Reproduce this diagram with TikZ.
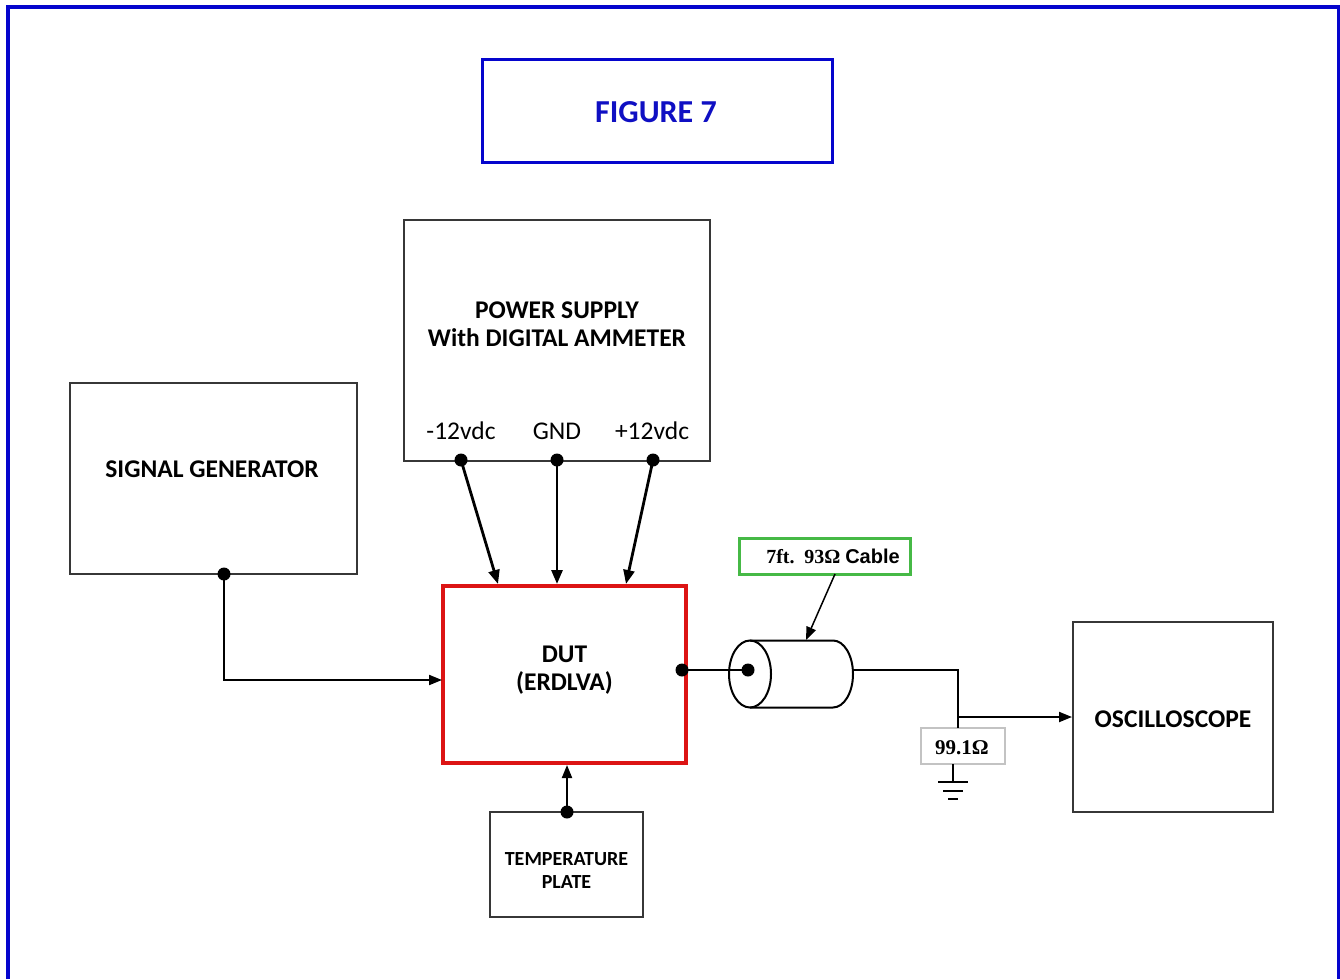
\documentclass[tikz,border=0pt]{standalone}
\usepackage{fontspec}
\setmainfont{Carlito}
\newfontfamily\timesf{Liberation Serif}
\newfontfamily\arialf{Liberation Sans}
\usetikzlibrary{arrows.meta,calc}

\definecolor{frameblue}{RGB}{5,5,205}
\definecolor{titleblue}{RGB}{15,15,195}
\definecolor{dutred}{RGB}{220,20,20}
\definecolor{labelgreen}{RGB}{70,185,70}
\definecolor{labelgray}{RGB}{195,195,195}
\definecolor{boxgray}{RGB}{55,55,55}

\tikzset{
  box/.style={draw=boxgray, line width=2pt, inner sep=0pt},
  txt/.style={anchor=base, inner sep=0pt, font=\bfseries\fontsize{25.5}{28}\selectfont},
  pinlabel/.style={anchor=base, inner sep=0pt, font=\fontsize{25.5}{28}\selectfont},
  wire/.style={line width=2pt, draw=black},
  arr/.style={wire, -{Triangle[length=13pt,width=10pt]}},
  pwr/.style={line width=2.8pt, draw=black, -{Triangle[length=14pt,width=11pt]}},
  dot/.style={circle, fill=black, inner sep=0pt, minimum size=13pt},
}

\begin{document}
\begin{tikzpicture}[x=1pt,y=-1pt]
\useasboundingbox (0,0) rectangle (1340,979);

% outer frame (open at the bottom)
\draw[frameblue, line width=4pt] (8,979) -- (8,7) -- (1338.5,7) -- (1338.5,979);

% title
\node[draw=frameblue, line width=3pt, minimum width=350pt, minimum height=102pt] (title) at (657,111) {};
\node[anchor=base, inner sep=0pt, text=titleblue, font=\bfseries\fontsize{32}{36}\selectfont] (titletext) at (656,122) {FIGURE 7};

% power supply
\node[box, minimum width=306pt, minimum height=241pt] (ps) at (557,340.5) {};
\node[txt] (pst1) at (557,318) {POWER SUPPLY};
\node[txt] (pst2) at (557,346) {With DIGITAL AMMETER};
\node[pinlabel] (lneg) at (461,439) {-12vdc};
\node[pinlabel] (lgnd) at (557,439) {GND};
\node[pinlabel] (lpos) at (652,439) {+12vdc};

% signal generator
\node[box, minimum width=287pt, minimum height=191pt] (sg) at (213.5,478.5) {};
\node[txt] (sgt) at (212,477) {SIGNAL GENERATOR};

% device under test
\node[draw=dutred, line width=4pt, minimum width=243pt, minimum height=177pt] (dut) at (564.5,674.5) {};
\node[txt] (dutt1) at (564.5,662) {DUT};
\node[txt] (dutt2) at (564.5,690) {(ERDLVA)};

% temperature plate
\node[box, minimum width=153pt, minimum height=105pt] (tp) at (566.5,864.5) {};
\node[txt, font=\bfseries\fontsize{20}{22}\selectfont] (tpt1) at (566.5,865) {TEMPERATURE};
\node[txt, font=\bfseries\fontsize{20}{22}\selectfont] (tpt2) at (566.5,888) {PLATE};

% oscilloscope
\node[box, minimum width=200pt, minimum height=190pt] (osc) at (1173,717) {};
\node[txt] (osct) at (1173,727) {OSCILLOSCOPE};

% cable and load labels
\node[draw=labelgreen, line width=3pt, minimum width=171pt, minimum height=36pt] (cabl) at (824.5,556) {};
\node[anchor=base, inner sep=0pt, font=\bfseries\fontsize{20}{22}\selectfont] (cablt) at (833,563) {\timesf 7ft.\hspace{3pt} 93Ω \arialf Cable};
\node[draw=labelgray, line width=2pt, minimum width=84pt, minimum height=36pt] (rl) at (963,746) {};
\node[anchor=base, inner sep=0pt, font=\bfseries\fontsize{21}{24}\selectfont] (rlt) at (962,754) {\timesf 99.1Ω};

% connection points
\node[dot] (pneg) at (461,460) {};
\node[dot] (pgnd) at (557,460) {};
\node[dot] (ppos) at (653,460) {};
\node[dot] (psg) at (224,574) {};
\node[dot] (ptp) at (567,812) {};
\node[dot] (pdut) at (682,670) {};
\node[dot] (pcab) at (748,670) {};

\coordinate (dneg) at (498,584);
\coordinate (dgnd) at (557,584);
\coordinate (dpos) at (626,584);
\coordinate (dsg) at (442,680);
\coordinate (dtp) at (567,765);
\coordinate (cabout) at (853,670);
\coordinate (cabtop) at (806,640);
\coordinate (cablfoot) at (835,574);
\coordinate (tap) at (958,717);
\coordinate (rtop) at (958,728);
\coordinate (rbot) at (953,764);
\coordinate (gnd) at (953,782);
\coordinate (oscin) at (1072,717);

% coaxial cable body
\draw[wire] (750,674) ellipse [x radius=21pt, y radius=33.5pt];
\draw[wire] (750,640.5) -- (833,640.5) arc[start angle=90, end angle=-90, x radius=20pt, y radius=33.5pt] -- (750,707.5);

% supply leads
\draw[pwr] (pneg.center) -- (dneg);
\draw[pwr] (pgnd.center) -- (dgnd);
\draw[pwr] (ppos.center) -- (dpos);

% signal path
\draw[arr] (psg.center) |- (dsg);
\draw[arr] (ptp.center) -- (dtp);
\draw[wire] (pdut.center) -- (pcab.center);
\draw[wire] (cabout) -| (rtop);
\draw[arr] (tap) -- (oscin);
\draw[arr, line width=1.5pt] (cablfoot) -- (cabtop);

% load to ground
\draw[wire] (rbot) -- (gnd);
\draw[wire] ($(gnd)+(-15,0)$) -- ($(gnd)+(15,0)$);
\draw[wire] ($(gnd)+(-10,8.5)$) -- ($(gnd)+(10,8.5)$);
\draw[wire] ($(gnd)+(-5,17)$) -- ($(gnd)+(5,17)$);
\end{tikzpicture}
\end{document}
